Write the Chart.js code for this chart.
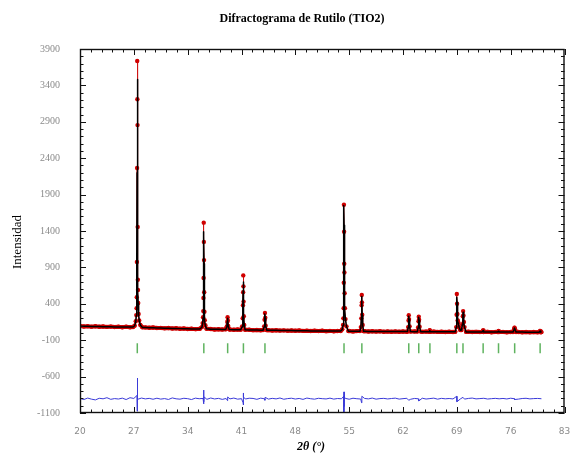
<!DOCTYPE html>
<html>
<head>
<meta charset="utf-8">
<script src="https://cdn.jsdelivr.net/npm/chart.js@4.4.1/dist/chart.umd.min.js"></script>
<style>
  html, body { margin: 0; padding: 0; background: #fff; }
  #wrap { position: relative; width: 571px; height: 455px; }
</style>
</head>
<body>
<div id="wrap"><canvas id="c"></canvas></div>
<script>
// background samples (observed / calculated)
var bgAngle = [20,20.5,21,21.5,22,22.5,23,23.5,24,24.5,25,25.5,26,26.5,
  28.5,29,29.5,30,30.5,31,31.5,32,32.5,33,33.5,34,34.5,35,35.5,
  37,37.5,38,38.5, 39.5,40,40.5, 42,42.5,43,43.5,
  44.5,45,45.5,46,46.5,47,47.5,48,48.5,49,49.5,50,50.5,51,51.5,52,52.5,53,53.5,
  55,55.5,56, 57,57.5,58,58.5,59,59.5,60,60.5,61,61.5,62,62.5,
  63.5, 64.5,65, 66,66.5,67,67.5,68,68.5, 70.5,71,71.5,72, 73,73.5,74,
  75,75.5,76, 77,77.5,78,78.5,79,79.5, 80];
var bgObs = [95,88,93,86,91,84,89,83,87,80,85,78,84,77,
  76,70,74,67,69,63,67,60,64,58,61,54,58,52,56,
  53,48,51,46, 48,43,46, 43,38,41,36,
  38,33,37,32,35,31,34,29,33,28,31,26,30,25,29,24,28,23,27,
  26,21,25, 24,19,23,18,22,17,21,17,21,16,20,16,
  19, 15,18, 18,14,17,13,17,13, 16,12,15,11, 15,10,14,
  14,9,13, 13,9,12,8,12,8, 11];
var bgCalc = [92,91,90,89,88,87,86,85,84,83,82,81,80,80,
  74,72,70,68,66,65,64,62,61,59,58,56,55,54,54,
  51,50,49,48, 46,45,44, 41,40,39,38,
  36,35,35,34,33,33,32,31,30,30,29,28,28,27,27,26,26,25,25,
  24,23,23, 22,21,21,20,20,20,19,19,19,18,18,18,
  17, 17,16, 16,16,15,15,15,15, 14,14,13,13, 13,12,12,
  12,11,11, 11,11,10,10,10,10, 10];

// Bragg reflections (rutile)
var peakAngle = [
  26.9,27.1,27.25,27.32,27.36,27.38,27.40,27.42,27.44,27.46,27.48,27.50,27.52,27.54,27.57,27.62,27.7,27.85,28.1,
  35.6,35.85,35.95,36.0,36.03,36.05,36.07,36.09,36.11,36.13,36.15,36.18,36.22,36.3,36.45,
  38.95,39.1,39.15,39.19,39.23,39.28,39.4,
  40.9,41.08,41.15,41.19,41.21,41.23,41.25,41.27,41.3,41.36,41.47,
  43.8,43.95,44.0,44.05,44.09,44.14,44.3,
  53.9,54.1,54.2,54.25,54.28,54.3,54.32,54.34,54.36,54.38,54.41,54.45,54.52,54.65,54.9,
  56.4,56.52,56.58,56.62,56.64,56.66,56.7,56.76,56.88,
  62.58,62.67,62.72,62.75,62.79,62.86,62.97,
  63.86,63.96,64.02,64.05,64.09,64.16,64.3,
  65.4,65.48,65.56,
  68.8,68.92,68.97,69.0,69.03,69.07,69.12,69.2,69.3,69.45,69.6,69.72,69.78,69.82,69.86,69.92,70.0,70.2,
  72.3,72.41,72.48,
  74.3,74.41,74.48,
  76.3,76.42,76.5,76.58,76.7,
  79.7,79.82,79.92];
var peakObs = [
  82,100,160,245,340,490,975,2265,3735,3210,2855,1455,730,590,410,260,170,110,78,
  56,80,135,215,300,480,755,1515,1250,1000,560,290,175,105,58,
  50,90,150,215,170,95,49,
  45,90,200,380,560,790,640,430,230,110,44,
  39,90,180,275,210,100,38,
  27,50,110,200,340,690,1760,1390,950,830,545,340,190,90,26,
  25,80,200,380,520,420,250,110,24,
  20,80,170,242,190,90,19,
  19,75,160,223,180,85,18,
  17,38,16,
  16,80,250,535,400,260,170,140,80,40,40,120,230,300,240,150,80,15,
  14,35,13,
  13,26,12,
  12,45,72,48,11,
  11,28,10];
var peakCalc = [
  81,98,150,240,350,520,1000,2200,3480,3420,2700,1390,760,570,400,255,165,108,76,
  55,78,130,210,310,500,800,1390,1330,950,540,300,170,100,56,
  48,85,160,200,165,90,47,
  43,85,210,400,580,700,660,420,240,105,42,
  37,85,185,260,200,95,36,
  25,48,105,210,360,720,1750,1480,1000,780,560,330,185,88,24,
  23,75,210,400,500,430,240,105,22,
  18,75,180,230,185,85,18,
  17,70,170,215,175,80,17,
  16,34,16,
  15,75,260,490,420,250,160,130,75,38,40,115,240,285,235,140,75,14,
  13,32,13,
  12,24,12,
  11,40,68,45,11,
  10,26,10];

// difference curve (obs - calc, shifted)
var DIFF_START = 20, DIFF_STEP = 0.5;
var diffGrid = [
  -900,-915,-895,-910,-920,-898,-905,-890,-912,-902,
  -908,-896,-915,-890,-900,-912,-895,-906,-899,-911,
  -897,-909,-902,-914,-893,-905,-910,-898,-903,-915,
  -896,-904,-900,-912,-894,-907,-899,-913,-901,-906,
  -895,-910,-903,-908,-897,-900,-912,-896,-905,-909,
  -899,-906,-894,-911,-902,-897,-908,-900,-913,-895,
  -904,-910,-898,-903,-907,-896,-909,-901,-905,-899,
  -911,-897,-904,-908,-900,-906,-895,-910,-902,-899,
  -907,-901,-896,-909,-903,-898,-911,-900,-905,-897,
  -908,-902,-896,-910,-899,-905,-901,-907,-897,-904,
  -909,-900,-895,-906,-902,-898,-908,-903,-899,-905,
  -900,-907,-897,-904,-909,-901,-898,-906,-902,-900,
  -904];
var spikeAngle = [27.40,27.43,27.45,27.47,27.49, 36.06,36.08,36.10,36.12,36.14, 39.18,39.2,
  41.21,41.23,41.25,41.27, 44.04,44.07, 54.29,54.31,54.33,54.35,54.37, 56.62,56.65,
  62.74, 64.05, 68.99,69.02, 69.8, 76.5];
var spikeDiff = [-860,-1075,-620,-1000,-840, -870,-975,-785,-950,-880, -930,-880,
  -960,-825,-990,-880, -925,-885, -870,-1085,-810,-1010,-880, -960,-870,
  -925, -935, -870,-945, -885, -915];

var braggAngle = [27.45,36.1,39.2,41.25,44.05,54.33,56.65,62.75,64.05,65.5,69.0,69.8,72.42,74.42,76.52,79.83];
var BRAGG_Y = -210;

var X_MIN = 20, X_MAX = 83, X_STEP = 7;
var Y_MIN = -1100, Y_MAX = 3900, Y_STEP = 500;

function byX(a, b) { return a.x - b.x; }

var obsPts = [], calcPts = [], diffPts = [];
bgAngle.forEach(function(x, i) {
  obsPts.push({ x: x, y: bgObs[i] });
  calcPts.push({ x: x, y: bgCalc[i] });
});
peakAngle.forEach(function(x, i) {
  obsPts.push({ x: x, y: peakObs[i] });
  calcPts.push({ x: x, y: peakCalc[i] });
});
obsPts.sort(byX); calcPts.sort(byX);
diffGrid.forEach(function(v, i) { diffPts.push({ x: DIFF_START + i * DIFF_STEP, y: v }); });
spikeAngle.forEach(function(x, i) { diffPts.push({ x: x, y: spikeDiff[i] }); });
diffPts.sort(byX);
var braggPts = braggAngle.map(function(x) { return { x: x, y: BRAGG_Y }; });

// frame with inward ticks, like the original plotting program
var frameTicks = {
  id: 'frameTicks',
  afterDatasetsDraw: function(chart) {
    var ctx = chart.ctx, a = chart.chartArea, xs = chart.scales.x, ys = chart.scales.y;
    ctx.save();
    ctx.strokeStyle = '#111';
    ctx.lineWidth = 1;
    ctx.beginPath();
    var i, p, len;
    for (i = 0; i <= 45; i++) {
      p = Math.round(xs.getPixelForValue(X_MIN + i * 1.4)) + 0.5;
      len = i % 5 === 0 ? 6 : 3.5;
      ctx.moveTo(p, a.bottom); ctx.lineTo(p, a.bottom - len);
      ctx.moveTo(p, a.top); ctx.lineTo(p, a.top + len);
    }
    for (i = 0; i <= 50; i++) {
      p = Math.round(ys.getPixelForValue(Y_MIN + i * 100)) + 0.5;
      len = i % 5 === 0 ? 6 : 3.5;
      ctx.moveTo(a.left, p); ctx.lineTo(a.left + len, p);
      ctx.moveTo(a.right, p); ctx.lineTo(a.right - len, p);
    }
    ctx.stroke();
    ctx.lineWidth = 1.4;
    ctx.strokeRect(a.left + 0.5, a.top + 0.5, a.right - a.left - 1, a.bottom - a.top - 1);
    ctx.restore();
  }
};

var labels = {
  id: 'labels',
  afterDraw: function(chart) {
    var ctx = chart.ctx;
    ctx.save();
    ctx.fillStyle = '#000';
    ctx.textAlign = 'center';
    ctx.textBaseline = 'middle';
    ctx.font = 'bold 12px "Liberation Serif", serif';
    ctx.fillText('Difractograma de Rutilo (TIO2)', 302, 19);
    ctx.font = 'bold italic 12px "Liberation Serif", serif';
    ctx.fillText('2\u03b8 (\u00b0)', 311, 447);
    ctx.translate(18, 242);
    ctx.rotate(-Math.PI / 2);
    ctx.font = '13px "Liberation Serif", serif';
    ctx.fillText('Intensidad', 0, 0);
    ctx.restore();
  }
};

// thick red band on the flat background, thin trace up the steep peak flanks
function obsWidth(c) {
  return Math.abs(c.p1.y - c.p0.y) > 3 ? 0.8 : 4;
}

new Chart(document.getElementById('c'), {
  type: 'scatter',
  data: {
    datasets: [
      { label: 'Calculado', data: calcPts, showLine: true, borderColor: '#000', borderWidth: 1.5,
        borderJoinStyle: 'round', pointRadius: 0, order: 1 },
      { label: 'Observado', data: obsPts, showLine: true, borderColor: '#cc0000', borderWidth: 4,
        borderJoinStyle: 'round', borderCapStyle: 'round', segment: { borderWidth: obsWidth },
        pointRadius: 2.2, pointBackgroundColor: '#d00000', pointBorderWidth: 0, order: 2 },
      { label: 'Diferencia', data: diffPts, showLine: true, borderColor: '#3a3ad8', borderWidth: 1,
        borderJoinStyle: 'round', pointRadius: 0, order: 3 },
      { label: 'Bragg', data: braggPts, showLine: false, pointStyle: 'line', rotation: 90,
        pointRadius: 5, borderColor: '#5fb35f', borderWidth: 1.5, order: 4 }
    ]
  },
  options: {
    responsive: true,
    maintainAspectRatio: false,
    animation: false,
    layout: { padding: { top: 49, left: 0, right: 4, bottom: 0 } },
    plugins: { legend: { display: false }, tooltip: { enabled: false }, title: { display: false } },
    scales: {
      x: {
        type: 'linear', min: X_MIN, max: X_MAX,
        afterFit: function(s) { s.height = 42; s.paddingLeft = 0; s.paddingRight = 0; },
        grid: { display: false, drawTicks: false },
        border: { display: false },
        ticks: { stepSize: X_STEP, padding: 13, maxRotation: 0, autoSkip: false,
          callback: function(v) { return String(v); },
          color: '#8a8a8a', font: { family: '"DejaVu Sans", sans-serif', size: 9 } }
      },
      y: {
        min: Y_MIN, max: Y_MAX,
        afterFit: function(s) { s.width = 80; s.paddingTop = 0; s.paddingBottom = 0; },
        grid: { display: false, drawTicks: false },
        border: { display: false },
        ticks: { stepSize: Y_STEP, padding: 20, autoSkip: false,
          callback: function(v) { return String(v); },
          color: '#8a8a8a', font: { family: '"Liberation Serif", serif', size: 10 } }
      }
    }
  },
  plugins: [frameTicks, labels]
});
</script>
</body>
</html>
